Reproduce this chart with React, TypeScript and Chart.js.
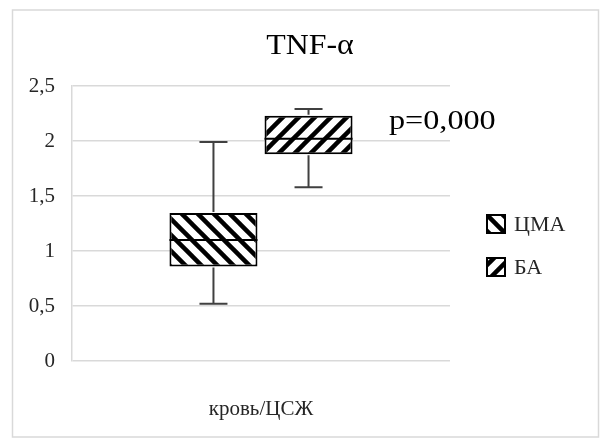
import React, { useEffect, useRef } from 'react';
import { Chart, registerables } from 'chart.js';

Chart.register(...registerables);

const categories = ['кровь/ЦСЖ'];
const seriesNames = ['ЦМА', 'БА'];
const whiskerLow = [0.52, 1.58];
const quartile1 = [0.86, 1.88];
const medians = [1.1, 2.02];
const quartile3 = [1.345, 2.23];
const whiskerHigh = [1.99, 2.29];
const yTicks = [0, 0.5, 1, 1.5, 2, 2.5];
const titleText = 'TNF-α';
const pValueText = 'p=0,000';

const FONT = "'Liberation Serif', 'Times New Roman', serif";

function makePattern(dir: 'back' | 'fwd') {
  const c = document.createElement('canvas');
  const s = 16;
  c.width = s;
  c.height = s;
  const ctx = c.getContext('2d')!;
  ctx.fillStyle = '#ffffff';
  ctx.fillRect(0, 0, s, s);
  ctx.strokeStyle = '#000000';
  ctx.lineWidth = 4.5;
  for (let k = -1; k <= 2; k++) {
    ctx.beginPath();
    if (dir === 'back') {
      ctx.moveTo(k * s - 4, -4);
      ctx.lineTo(k * s + s + 4, s + 4);
    } else {
      ctx.moveTo(k * s + 4, -4);
      ctx.lineTo(k * s - s - 4, s + 4);
    }
    ctx.stroke();
  }
  return ctx.createPattern(c, 'repeat');
}

const extrasPlugin = {
  id: 'boxExtras',
  beforeDraw(chart: any) {
    const ctx = chart.ctx;
    ctx.save();
    ctx.fillStyle = '#ffffff';
    ctx.fillRect(0, 0, chart.width, chart.height);
    ctx.strokeStyle = '#d9d9d9';
    ctx.lineWidth = 1.5;
    ctx.strokeRect(12.5, 10, 586, 427);
    ctx.restore();
  },
  afterDatasetsDraw(chart: any) {
    const ctx = chart.ctx;
    const y = chart.scales.y;
    chart.data.datasets.forEach((ds: any, i: number) => {
      const meta = chart.getDatasetMeta(i);
      meta.data.forEach((bar: any, j: number) => {
        const x = bar.x;
        const w = bar.width;
        const yMed = y.getPixelForValue(ds.medians[j]);
        const yQ1 = y.getPixelForValue(ds.q1[j]);
        const yQ3 = y.getPixelForValue(ds.q3[j]);
        const yLo = y.getPixelForValue(ds.lo[j]);
        const yHi = y.getPixelForValue(ds.hi[j]);
        const cap = 14;
        ctx.save();
        ctx.strokeStyle = '#404040';
        ctx.lineWidth = 2;
        ctx.beginPath();
        ctx.moveTo(x, yQ3 - 1);
        ctx.lineTo(x, yHi);
        ctx.moveTo(x - cap, yHi);
        ctx.lineTo(x + cap, yHi);
        ctx.moveTo(x, yQ1 + 1);
        ctx.lineTo(x, yLo);
        ctx.moveTo(x - cap, yLo);
        ctx.lineTo(x + cap, yLo);
        ctx.stroke();
        ctx.strokeStyle = '#000000';
        ctx.lineWidth = 2;
        ctx.beginPath();
        ctx.moveTo(x - w / 2, yMed);
        ctx.lineTo(x + w / 2, yMed);
        ctx.stroke();
        ctx.restore();
      });
    });
  },
  afterDraw(chart: any) {
    const ctx = chart.ctx;
    ctx.save();
    ctx.fillStyle = '#000000';
    ctx.textBaseline = 'alphabetic';
    // title
    ctx.font = `29px ${FONT}`;
    ctx.textAlign = 'center';
    ctx.save();
    ctx.translate(310, 54);
    ctx.scale(1.1, 1);
    ctx.fillText(titleText, 0, 0);
    ctx.restore();
    // p value
    ctx.font = `28px ${FONT}`;
    ctx.textAlign = 'left';
    ctx.save();
    ctx.translate(389, 129);
    ctx.scale(1.15, 1);
    ctx.fillText(pValueText, 0, 0);
    ctx.restore();
    // legend
    const lx = 487;
    const rows = [215, 258];
    chart.data.datasets.forEach((ds: any, i: number) => {
      const ly = rows[i];
      ctx.fillStyle = ds.backgroundColor;
      ctx.fillRect(lx, ly, 18, 18);
      ctx.strokeStyle = '#000000';
      ctx.lineWidth = 2;
      ctx.strokeRect(lx, ly, 18, 18);
      ctx.fillStyle = '#262626';
      ctx.font = `22px ${FONT}`;
      ctx.textAlign = 'left';
      ctx.fillText(ds.label, 514, ly + 16);
    });
    ctx.restore();
  },
};

export default function App() {
  const ref = useRef<HTMLCanvasElement | null>(null);
  useEffect(() => {
    if (!ref.current) return;
    const patterns = [makePattern('back'), makePattern('fwd')];
    const datasets = seriesNames.map((name, i) => ({
      label: name,
      data: categories.map(() => [quartile1[i], quartile3[i]]),
      backgroundColor: patterns[i],
      borderColor: '#000000',
      borderWidth: 2,
      borderSkipped: false,
      categoryPercentage: 0.503,
      barPercentage: 0.926,
      medians: [medians[i]],
      q1: [quartile1[i]],
      q3: [quartile3[i]],
      lo: [whiskerLow[i]],
      hi: [whiskerHigh[i]],
    }));
    const chart = new Chart(ref.current, {
      type: 'bar',
      data: { labels: categories, datasets: datasets as any },
      options: {
        animation: false,
        responsive: false,
        maintainAspectRatio: false,
        layout: { padding: { top: 86, right: 150, bottom: 0, left: 0 } },
        plugins: {
          legend: { display: false },
          title: { display: false },
          tooltip: { enabled: false },
        },
        scales: {
          x: {
            type: 'category',
            grid: { display: false, drawTicks: false },
            border: { display: false },
            ticks: {
              color: '#262626',
              font: { family: FONT, size: 21 },
              padding: 36,
            },
            afterFit: (s: any) => {
              s.height = 78;
            },
          },
          y: {
            min: 0,
            max: 2.5,
            grid: { color: '#d9d9d9', lineWidth: 1.5, drawTicks: false },
            border: { display: true, color: '#d9d9d9', width: 1.5 },
            afterBuildTicks: (s: any) => {
              s.ticks = yTicks.map((v) => ({ value: v }));
            },
            ticks: {
              color: '#262626',
              font: { family: FONT, size: 21 },
              padding: 17,
              callback: (v: any) => String(v).replace('.', ','),
            },
            afterFit: (s: any) => {
              s.width = 72;
            },
          },
        },
      } as any,
      plugins: [extrasPlugin],
    });
    return () => chart.destroy();
  }, []);
  return (
    <div style={{ position: 'absolute', left: 0, top: 0, width: 600, height: 439 }}>
      <canvas ref={ref} width={600} height={439} />
    </div>
  );
}
